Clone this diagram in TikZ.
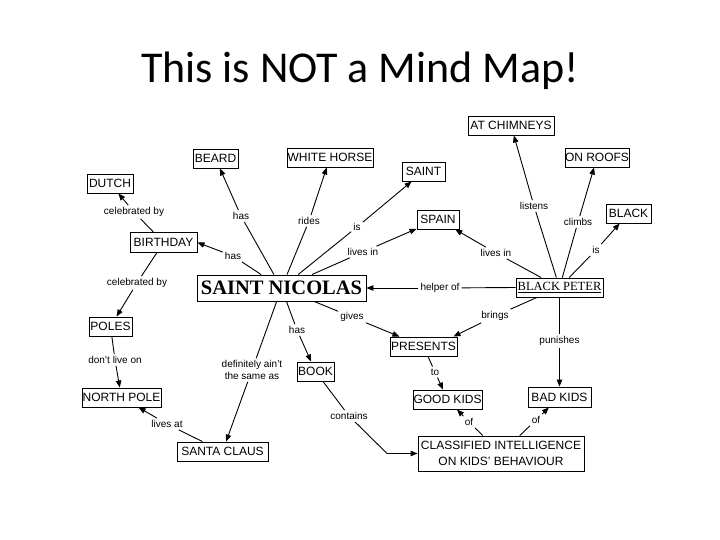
\documentclass[tikz,border=0pt]{standalone}
\usepackage{fontspec}
\setmainfont{Liberation Sans}
\newfontfamily\titlefont{Carlito}
\newfontfamily\serifface{Liberation Serif}
\usetikzlibrary{arrows.meta}
\tikzset{
  concept/.style={draw, line width=0.9pt, inner sep=0pt, align=center, font=\fontsize{12}{16}\selectfont},
  lbl/.style={inner sep=2pt, align=center, font=\fontsize{10}{12}\selectfont},
  link/.style={line width=0.9pt},
  arr/.style={line width=0.9pt, -{Triangle[length=7pt,width=5.5pt]}},
}
\begin{document}
\begin{tikzpicture}[x=1pt,y=-1pt]
\useasboundingbox (0,0) rectangle (720,540);
% title
\node[anchor=base, inner sep=0pt, font=\titlefont\fontsize{44}{50}\selectfont] (title) at (360,83) {This is NOT a Mind Map!};
% concepts
\node[concept, minimum width=86pt, minimum height=19pt] (atch) at (511,125.5) {AT CHIMNEYS};
\node[concept, minimum width=64pt, minimum height=19pt] (roofs) at (597,157.5) {ON ROOFS};
\node[concept, minimum width=43pt, minimum height=19pt] (saint) at (423.5,171.5) {SAINT};
\node[concept, minimum width=42pt, minimum height=19pt] (spain) at (438,219.5) {SPAIN};
\node[concept, minimum width=45pt, minimum height=19pt] (black) at (628.5,213.5) {BLACK};
\node[concept, minimum width=45pt, minimum height=19pt] (beard) at (215.5,158.5) {BEARD};
\node[concept, minimum width=86pt, minimum height=19pt] (horse) at (330,157.5) {WHITE HORSE};
\node[concept, minimum width=46pt, minimum height=19pt] (dutch) at (110,183.5) {DUTCH};
\node[concept, minimum width=67pt, minimum height=20pt] (bday) at (163.5,242.5) {BIRTHDAY};
\node[concept, minimum width=169pt, minimum height=26pt, font=\serifface\bfseries\fontsize{20.5}{22}\selectfont] (sn) at (281.5,288) {SAINT NICOLAS};
\node[concept, minimum width=43pt, minimum height=19pt] (poles) at (110.5,326.5) {POLES};
\node[concept, minimum width=37pt, minimum height=19pt] (book) at (315.5,371.5) {BOOK};
\node[concept, minimum width=67pt, minimum height=19pt] (pres) at (423.5,346.5) {PRESENTS};
\node[concept, minimum width=69pt, minimum height=19pt] (good) at (447.5,399.5) {GOOD KIDS};
\node[concept, minimum width=87pt, minimum height=19pt, font=\serifface\fontsize{12.5}{14}\selectfont] (bp) at (559.5,287.5) {\underline{BLACK PETER}};
\node[concept, minimum width=63pt, minimum height=20pt] (bad) at (559.5,397) {BAD KIDS};
\node[concept, minimum width=166pt, minimum height=35pt] (ci) at (501,453.5) {CLASSIFIED INTELLIGENCE\\ON KIDS' BEHAVIOUR};
\node[concept, minimum width=79pt, minimum height=19pt] (npole) at (121.5,397.5) {NORTH POLE};
\node[concept, minimum width=91pt, minimum height=19pt] (santa) at (222.5,451.5) {SANTA CLAUS};
% link labels
\node[lbl] (lbeard) at (241,216) {has};
\node[lbl] (lrides) at (309,221) {rides};
\node[lbl] (lis) at (357,227) {is};
\node[lbl] (llivesa) at (363,252) {lives in};
\node[lbl] (lhasb) at (233,256) {has};
\node[lbl] (lcelda) at (134,212) {celebrated by};
\node[lbl] (lcelpo) at (137,283) {celebrated by};
\node[lbl] (ldont) at (115,360) {don't live on};
\node[lbl] (llivesat) at (167,424) {lives at};
\node[lbl] (ldef) at (252,370) {definitely ain't\\the same as};
\node[lbl] (lhasbook) at (297,330) {has};
\node[lbl] (lgives) at (352,317) {gives};
\node[lbl] (lhelper) at (440,288) {helper of};
\node[lbl] (lbrings) at (495,316) {brings};
\node[lbl] (lpunish) at (559.5,341) {punishes};
\node[lbl] (lto) at (435,372) {to};
\node[lbl] (lofg) at (469,422) {of};
\node[lbl] (lofb) at (536,420) {of};
\node[lbl] (lcont) at (349,416) {contains};
\node[lbl] (llisten) at (534,206) {listens};
\node[lbl] (lclimb) at (578,222) {climbs};
\node[lbl] (lisb) at (596,250) {is};
\node[lbl] (llivesb) at (496,253) {lives in};
\coordinate (bend) at (387,453.5);
% connectors
\draw[link] (sn) -- (lbeard);  \draw[arr] (lbeard) -- (beard);
\draw[link] (sn) -- (lrides);  \draw[arr] (lrides) -- (horse);
\draw[link] (sn) -- (lis);     \draw[arr] (lis) -- (saint);
\draw[link] (sn) -- (llivesa); \draw[arr] (llivesa) -- (spain);
\draw[link] (sn) -- (lhasb);   \draw[arr] (lhasb) -- (bday.east);
\draw[link] (bday) -- (lcelda); \draw[arr] (lcelda) -- (dutch);
\draw[link] (bday) -- (lcelpo); \draw[arr] (lcelpo) -- (poles);
\draw[link] (poles) -- (ldont); \draw[arr] (ldont) -- (npole);
\draw[link] (santa) -- (llivesat); \draw[arr] (llivesat) -- (npole);
\draw[link] (sn) -- (ldef);    \draw[arr] (ldef) -- (santa);
\draw[link] (sn) -- (lhasbook); \draw[arr] (lhasbook) -- (book);
\draw[link] (sn) -- (lgives);  \draw[arr] (lgives) -- (pres);
\draw[link] (bp.west) -- (lhelper); \draw[arr] (lhelper) -- (sn.east);
\draw[link] (bp) -- (lbrings); \draw[arr] (lbrings) -- ([xshift=-4pt]pres.north east);
\draw[link] (bp) -- (lpunish); \draw[arr] (lpunish) -- (bad);
\draw[link] (pres) -- (lto);   \draw[arr] (lto) -- (good);
\draw[link] (ci) -- (lofg);    \draw[arr] (lofg) -- (good);
\draw[link] (ci) -- (lofb);    \draw[arr] (lofb) -- (bad);
\draw[link] (book) -- (lcont); \draw[arr] (lcont) -- (bend) -- (ci.west);
\draw[link] (bp) -- (llisten); \draw[arr] (llisten) -- (atch);
\draw[link] (bp) -- (lclimb);  \draw[arr] (lclimb) -- (roofs);
\draw[link] (bp) -- (lisb);    \draw[arr] (lisb) -- (black);
\draw[link] (bp) -- (llivesb); \draw[arr] (llivesb) -- (spain);
\end{tikzpicture}
\end{document}
